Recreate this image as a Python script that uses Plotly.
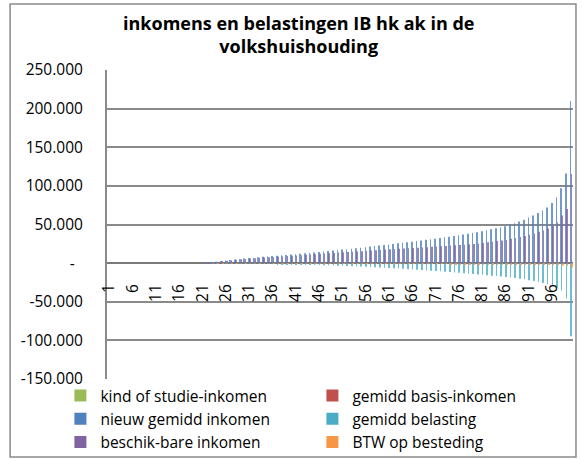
import plotly.graph_objs as go

# Categories (huishoudens 1..100)
categories = list(range(1, 101))

# Series values (first 21 households have no values)
kind_studie = [0] * 100
basis_inkomen = [0] * 100
nieuw_inkomen = [0] * 21 + [
    -1000, 1000, 1800, 2600, 3300, 4000, 4700, 5300, 5900, 6500,
    7100, 7600, 8100, 8600, 9100, 9600, 10100, 10600, 11100, 11600,
    12100, 12700, 13300, 13900, 14500, 15100, 15700, 16300, 16900, 17500,
    18100, 18700, 19300, 20000, 20700, 21400, 22100, 22800, 23500, 24200,
    24900, 25600, 26300, 27000, 27700, 28500, 29300, 30100, 30900, 31700,
    32500, 33400, 34300, 35200, 36100, 37000, 38000, 39000, 40100, 41400,
    42700, 44000, 45300, 46500, 47800, 50000, 51700, 54000, 56000, 59000,
    61500, 65000, 68000, 72000, 77700, 85000, 97000, 116000, 210000]
belasting = [0] * 21 + [
    0, -50, -100, -150, -200, -300, -350, -400, -500, -550,
    -650, -750, -850, -950, -1050, -1150, -1250, -1350, -1450, -1600,
    -1750, -1900, -2100, -2300, -2500, -2700, -2900, -3100, -3300, -3500,
    -3750, -4000, -4250, -4500, -4800, -5100, -5400, -5700, -6000, -6300,
    -6700, -7000, -7400, -7800, -8200, -8600, -9000, -9400, -9800, -10200,
    -10600, -11100, -11600, -12100, -12600, -13100, -13600, -14100, -14600, -15200,
    -15700, -16200, -16800, -17300, -17800, -18600, -19300, -20200, -21000, -22200,
    -23200, -24500, -25700, -27300, -29500, -32000, -35500, -45800, -94500]
beschikbaar = [0] * 21 + [
    -900, 950, 1700, 2450, 3100, 3700, 4350, 4900, 5400, 5950,
    6450, 6850, 7250, 7650, 8050, 8450, 8850, 9250, 9650, 10000,
    10350, 10800, 11200, 11600, 12000, 12400, 12800, 13200, 13600, 14000,
    14350, 14700, 15050, 15500, 15900, 16300, 16700, 17100, 17500, 17900,
    18200, 18600, 18900, 19200, 19500, 19900, 20300, 20700, 21100, 21500,
    21900, 22300, 22700, 23100, 23500, 23900, 24400, 24900, 25500, 26200,
    27000, 27800, 28500, 29200, 30000, 31400, 32400, 33800, 35000, 36800,
    38300, 40500, 42300, 44700, 48200, 53000, 61500, 70200, 115500]
btw = [0] * 21 + [
    0, -50, -80, -120, -150, -190, -220, -250, -270, -300,
    -320, -340, -360, -380, -400, -420, -440, -460, -480, -500,
    -520, -540, -560, -580, -600, -620, -640, -660, -680, -700,
    -720, -740, -750, -780, -800, -820, -840, -860, -880, -900,
    -910, -930, -950, -960, -980, -1000, -1020, -1040, -1060, -1080,
    -1100, -1120, -1140, -1160, -1180, -1200, -1220, -1250, -1280, -1310,
    -1350, -1390, -1430, -1460, -1500, -1570, -1620, -1690, -1750, -1840,
    -1920, -2030, -2120, -2240, -2410, -2650, -3080, -3510, -5780]

# Axis ticks
x_tickvals = [1, 6, 11, 16, 21, 26, 31, 36, 41, 46, 51, 56, 61, 66, 71, 76, 81, 86, 91, 96]
y_tickvals = [-150000, -100000, -50000, 0, 50000, 100000, 150000, 200000, 250000]
y_ticktext = ['-150.000', '-100.000', '-50.000', '-\u00a0\u00a0', '50.000',
              '100.000', '150.000', '200.000', '250.000']

series = [
    ('kind of studie-inkomen', kind_studie, '#9BBB59'),
    ('gemidd basis-inkomen', basis_inkomen, '#C0504D'),
    ('nieuw gemidd inkomen', nieuw_inkomen, '#4F81BD'),
    ('gemidd belasting', belasting, '#4BACC6'),
    ('beschik-bare inkomen', beschikbaar, '#8064A2'),
    ('BTW op besteding', btw, '#F79646'),
]

FONT = 'Open Sans'
GRID = '#8a8a8a'

# opacity < 1 keeps plotly from snapping the thin bars to whole pixels
data = [go.Bar(x=categories, y=vals, name=name,
               marker=dict(color=col, opacity=0.8, line=dict(width=0)))
        for name, vals, col in series]
# empty carrier so the overlaying label axis gets drawn
data.append(go.Scatter(x=[categories[0], categories[-1]], y=[0, 0], xaxis='x2',
                       mode='none', showlegend=False, hoverinfo='skip'))

layout = go.Layout(
    width=582,
    height=459,
    margin=dict(l=107, r=9, t=70, b=80, autoexpand=False),
    paper_bgcolor='white',
    plot_bgcolor='white',
    font=dict(family=FONT, size=15.5, color='black'),
    barmode='group',
    bargap=0.2,
    bargroupgap=0,
    xaxis=dict(
        range=[0.5, 100.5],
        showticklabels=False,
        showgrid=False,
        showline=False,
        zeroline=False,
        ticks='',
    ),
    # category labels sit on the zero line, like the Excel horizontal axis
    xaxis2=dict(
        overlaying='x',
        matches='x',
        anchor='free',
        position=0.375,
        tickvals=x_tickvals,
        tickangle=-90,
        showgrid=False,
        showline=False,
        zeroline=False,
        ticks='',
        ticklabelstandoff=17,
        tickfont=dict(family=FONT, size=15.5, color='black'),
    ),
    yaxis=dict(
        range=[-150000, 250000],
        tickvals=y_tickvals,
        ticktext=y_ticktext,
        showgrid=True,
        gridcolor=GRID,
        gridwidth=2,
        zeroline=True,
        zerolinecolor='#7a7a7a',
        zerolinewidth=2,
        showline=True,
        linecolor=GRID,
        linewidth=2,
        ticks='',
        ticklabelstandoff=19,
        tickfont=dict(family=FONT, size=15.5, color='black'),
    ),
    legend=dict(
        orientation='h',
        x=-0.1, xanchor='left',
        y=0, yanchor='top',
        entrywidth=207,
        entrywidthmode='pixels',
        font=dict(family=FONT, size=15.5, color='black'),
        bgcolor='rgba(0,0,0,0)',
    ),
    annotations=[dict(
        text='<b>inkomens en belastingen IB hk ak in de<br>volkshuishouding</b>',
        xref='paper', yref='paper',
        x=(298 - 107) / 466, xanchor='center',
        y=(379 - 9) / 309, yanchor='top',
        showarrow=False,
        font=dict(family=FONT, size=18, color='black'))],
    shapes=[dict(type='rect', xref='paper', yref='paper',
                 x0=-0.208, x1=1.0064, y0=-0.2524, y1=1.2136,
                 line=dict(color=GRID, width=1.5))],
)

fig = go.Figure(data=data, layout=layout)
# drop the default 8px page margin so the chart fills the window exactly
fig.write_html('out.html', config={'displayModeBar': False},
               post_script="document.body.style.margin = '0';")
